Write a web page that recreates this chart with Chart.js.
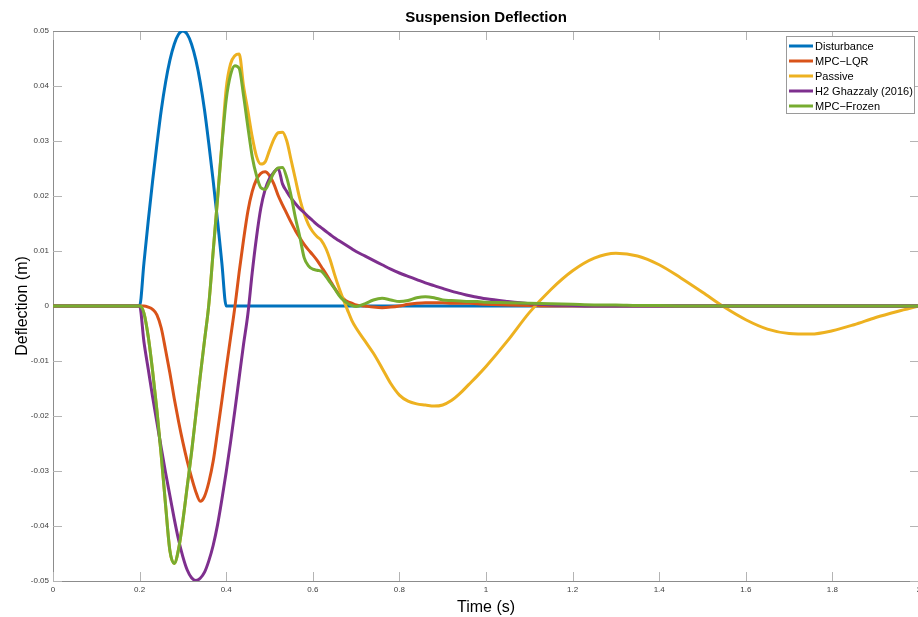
<!DOCTYPE html>
<html>
<head>
<meta charset="utf-8">
<script src="https://cdn.jsdelivr.net/npm/chart.js@4.4.1/dist/chart.umd.min.js"></script>
<style>
  html, body { margin: 0; padding: 0; background: #fff; overflow: hidden; width: 918px; height: 617px; }
  #wrap { position: absolute; left: 0; top: 0; width: 930px; height: 617px; }
</style>
</head>
<body>
<div id="wrap"><canvas id="c" width="930" height="617"></canvas></div>
<script>
// ---- data ----
const chartTitle = "Suspension Deflection";
const xTitle = "Time (s)";
const yTitle = "Deflection (m)";
const seriesNames = ["Disturbance", "MPC\u2212LQR", "Passive", "H2 Ghazzaly (2016)", "MPC\u2212Frozen"];

const time = [
  0, 0.1,
  0.20, 0.21, 0.22, 0.23, 0.24, 0.25, 0.26, 0.27, 0.28, 0.29,
  0.30, 0.31, 0.32, 0.33, 0.34, 0.35, 0.36, 0.37, 0.38, 0.39,
  0.40, 0.41, 0.42, 0.43, 0.44, 0.45, 0.46, 0.47, 0.48, 0.49,
  0.50, 0.51, 0.52, 0.53, 0.54, 0.55, 0.56, 0.57, 0.58, 0.59,
  0.60, 0.61, 0.62, 0.63, 0.64, 0.65, 0.66, 0.67, 0.68, 0.69,
  0.70,
  0.72, 0.74, 0.76, 0.78, 0.80,
  0.82, 0.84, 0.86, 0.88, 0.90, 0.92, 0.94, 0.96, 0.98, 1.00,
  1.05, 1.10, 1.15, 1.20, 1.25, 1.30, 1.35, 1.40, 1.45, 1.50,
  1.55, 1.60, 1.65, 1.70, 1.75, 1.80, 1.85, 1.90, 1.95, 2.00
];

const disturbance = [
  0, 0,
  0, 0.0078, 0.0155, 0.0227, 0.0294, 0.0356, 0.0407, 0.0447, 0.0476, 0.0494,
  0.0500, 0.0494, 0.0476, 0.0447, 0.0407, 0.0356, 0.0294, 0.0227, 0.0155, 0.0078,
  0, 0, 0, 0, 0, 0, 0, 0, 0, 0,
  0, 0, 0, 0, 0, 0, 0, 0, 0, 0,
  0, 0, 0, 0, 0, 0, 0, 0, 0, 0,
  0,
  0, 0, 0, 0, 0,
  0, 0, 0, 0, 0, 0, 0, 0, 0, 0,
  0, 0, 0, 0, 0, 0, 0, 0, 0, 0,
  0, 0, 0, 0, 0, 0, 0, 0, 0, 0
];

const mpcLqr = [
  0, 0,
  0, 0, -0.0002, -0.0006, -0.0016, -0.0040, -0.0080, -0.0122, -0.0168, -0.0210,
  -0.0248, -0.0282, -0.0312, -0.0338, -0.0355, -0.0346, -0.0320, -0.0282, -0.0228, -0.0172,
  -0.0114, -0.0058, -0.0002, 0.0062, 0.0120, 0.0172, 0.0208, 0.0230, 0.0241, 0.0244,
  0.0237, 0.0222, 0.0201, 0.0184, 0.0168, 0.0152, 0.0137, 0.0124, 0.0112, 0.0102,
  0.0093, 0.0083, 0.0071, 0.0059, 0.0046, 0.0033, 0.0022, 0.0014, 0.0008, 0.0005,
  0.0002,
  0, -0.0002, -0.0003, -0.0002, 0,
  0.0003, 0.0005, 0.0006, 0.0006, 0.0006, 0.0005, 0.0005, 0.0005, 0.0004, 0.0003,
  0.0002, 0.0001, 0, 0, 0, 0, 0, 0, 0, 0,
  0, 0, 0, 0, 0, 0, 0, 0, 0, 0
];

const passive = [
  0, 0,
  0, -0.0013, -0.0056, -0.0118, -0.0190, -0.0272, -0.0362, -0.0445, -0.0468, -0.0442,
  -0.0390, -0.0328, -0.0266, -0.0197, -0.0128, -0.0062, 0.0004, 0.0100, 0.0195, 0.0295,
  0.0395, 0.0440, 0.0455, 0.0458, 0.0400, 0.0355, 0.0308, 0.0272, 0.0258, 0.0262,
  0.0283, 0.0303, 0.0315, 0.0316, 0.0300, 0.0265, 0.0230, 0.0195, 0.0168, 0.0148,
  0.0135, 0.0126, 0.0119, 0.0105, 0.0084, 0.0058, 0.0034, 0.0013, -0.0007, -0.0026,
  -0.0040,
  -0.0063, -0.0086, -0.0113, -0.0141, -0.0162,
  -0.0173, -0.0178, -0.0180, -0.0182, -0.0180, -0.0172, -0.0159, -0.0143, -0.0127, -0.0110,
  -0.0063, -0.0012, 0.0030, 0.0064, 0.0087, 0.0096, 0.0091, 0.0075, 0.0051, 0.0025,
  -0.0002, -0.0025, -0.0042, -0.0050, -0.0051, -0.0045, -0.0034, -0.0021, -0.0010, 0
];

const h2Ghazzaly = [
  0, 0,
  0, -0.0065, -0.0115, -0.0165, -0.0212, -0.0258, -0.0303, -0.0345, -0.0387, -0.0425,
  -0.0456, -0.0480, -0.0494, -0.0499, -0.0495, -0.0484, -0.0463, -0.0435, -0.0398, -0.0352,
  -0.0302, -0.0248, -0.0190, -0.0130, -0.0070, -0.0015, 0.0060, 0.0125, 0.0178, 0.0212,
  0.0232, 0.0243, 0.0250, 0.0222, 0.0208, 0.0196, 0.0186, 0.0177, 0.0170, 0.0162,
  0.0155, 0.0148, 0.0142, 0.0136, 0.0130, 0.0124, 0.0119, 0.0114, 0.0109, 0.0104,
  0.0099,
  0.0091, 0.0083, 0.0075, 0.0067, 0.0060,
  0.0054, 0.0048, 0.0042, 0.0037, 0.0032, 0.0027, 0.0023, 0.0019, 0.0016, 0.0013,
  0.0008, 0.0004, 0.0002, 0.0001, 0, 0, 0, 0, 0, 0,
  0, 0, 0, 0, 0, 0, 0, 0, 0, 0
];

const mpcFrozen = [
  0, 0,
  0, -0.0013, -0.0056, -0.0118, -0.0190, -0.0272, -0.0362, -0.0445, -0.0468, -0.0442,
  -0.0390, -0.0328, -0.0266, -0.0197, -0.0128, -0.0062, 0.0004, 0.0100, 0.0195, 0.0292,
  0.0375, 0.0420, 0.0437, 0.0432, 0.0383, 0.0326, 0.0272, 0.0237, 0.0215, 0.0212,
  0.0226, 0.0242, 0.0251, 0.0252, 0.0233, 0.0200, 0.0160, 0.0126, 0.0088, 0.0073,
  0.0067, 0.0065, 0.0063, 0.0054, 0.0043, 0.0032, 0.0020, 0.0011, 0.0005, 0.0001,
  -0.0001,
  0.0004, 0.0011, 0.0014, 0.0011, 0.0008,
  0.0010, 0.0015, 0.0017, 0.0015, 0.0011, 0.0010, 0.0009, 0.0008, 0.0008, 0.0007,
  0.0006, 0.0005, 0.0004, 0.0003, 0.0002, 0.0002, 0.0001, 0.0001, 0, 0,
  0, 0, 0, 0, 0, 0, 0, 0, 0, 0
];

const seriesValues = [disturbance, mpcLqr, passive, h2Ghazzaly, mpcFrozen];
const seriesColors = ["#0072BD", "#D95319", "#EDB120", "#7E2F8E", "#77AC30"];

// ---- chart ----
const datasets = seriesValues.map((vals, i) => ({
  label: seriesNames[i],
  data: time.map((t, k) => ({ x: t, y: vals[k] })),
  borderColor: seriesColors[i],
  backgroundColor: seriesColors[i],
  borderWidth: 3,
  pointRadius: 0,
  fill: false,
  cubicInterpolationMode: 'monotone',
  borderJoinStyle: 'round',
  borderCapStyle: 'round',
  order: seriesValues.length - i
}));

const decoPlugin = {
  id: 'deco',
  beforeDatasetsDraw(chart) {
    const { ctx, chartArea: a, scales: { x, y } } = chart;
    ctx.save();
    ctx.strokeStyle = '#b4b4b4';
    ctx.lineWidth = 1;
    ctx.beginPath();
    x.ticks.forEach(t => {
      const px = Math.round(x.getPixelForValue(t.value)) + 0.5;
      ctx.moveTo(px, a.bottom); ctx.lineTo(px, a.bottom - 9);
      ctx.moveTo(px, a.top); ctx.lineTo(px, a.top + 9);
    });
    y.ticks.forEach(t => {
      const py = Math.round(y.getPixelForValue(t.value)) + 0.5;
      ctx.moveTo(a.left, py); ctx.lineTo(a.left + 9, py);
      ctx.moveTo(a.right, py); ctx.lineTo(a.right - 9, py);
    });
    ctx.stroke();
    ctx.strokeStyle = '#8c8c8c';
    ctx.beginPath();
    ctx.moveTo(a.left, a.top + 0.5); ctx.lineTo(a.right, a.top + 0.5);
    ctx.moveTo(a.right - 0.5, a.top); ctx.lineTo(a.right - 0.5, a.bottom);
    ctx.stroke();
    ctx.restore();
  },
  afterDraw(chart) {
    const { ctx, chartArea: a } = chart;
    ctx.save();
    // title
    ctx.fillStyle = '#000';
    ctx.font = 'bold 15px "Liberation Sans", Arial, sans-serif';
    ctx.textAlign = 'center';
    ctx.textBaseline = 'middle';
    ctx.fillText(chartTitle, (a.left + a.right) / 2, 18);
    // legend
    const bx = 786.5, by = 36.5, bw = 128, bh = 77;
    ctx.fillStyle = '#fff';
    ctx.fillRect(bx, by, bw, bh);
    ctx.strokeStyle = '#9a9a9a';
    ctx.lineWidth = 1;
    ctx.strokeRect(bx, by, bw, bh);
    ctx.font = '11px "Liberation Sans", Arial, sans-serif';
    ctx.textAlign = 'left';
    seriesNames.forEach((name, i) => {
      const ry = 46 + i * 15;
      ctx.strokeStyle = seriesColors[i];
      ctx.lineWidth = 3;
      ctx.beginPath();
      ctx.moveTo(789, ry); ctx.lineTo(813, ry);
      ctx.stroke();
      ctx.fillStyle = '#000';
      ctx.fillText(name, 815, ry + 0.5);
    });
    ctx.restore();
  }
};

new Chart(document.getElementById('c'), {
  type: 'line',
  data: { datasets },
  options: {
    responsive: false,
    animation: false,
    devicePixelRatio: 1,
    layout: { padding: { left: 0, top: 31, right: 11, bottom: 0 } },
    plugins: { legend: { display: false }, title: { display: false }, tooltip: { enabled: false } },
    scales: {
      x: {
        type: 'linear', min: 0, max: 2,
        grid: { display: false, drawTicks: false },
        border: { display: true, color: '#8c8c8c', width: 1 },
        ticks: {
          stepSize: 0.2, padding: 4, maxRotation: 0, autoSkip: false,
          color: '#404040', font: { family: 'Liberation Sans', size: 8 },
          callback: v => (Math.abs(v - Math.round(v)) < 1e-9 ? String(Math.round(v)) : (+v).toFixed(1))
        },
        title: { display: true, text: xTitle, color: '#000', font: { family: 'Liberation Sans', size: 16 }, padding: { top: 0, bottom: 0 } },
        afterFit: s => { s.height = 36; }
      },
      y: {
        type: 'linear', min: -0.05, max: 0.05,
        grid: { display: false, drawTicks: false },
        border: { display: true, color: '#8c8c8c', width: 1 },
        ticks: {
          stepSize: 0.01, padding: 4, autoSkip: false,
          color: '#404040', font: { family: 'Liberation Sans', size: 8 },
          callback: v => (Math.abs(v) < 1e-9 ? '0' : (+v).toFixed(2))
        },
        title: { display: true, text: yTitle, color: '#000', font: { family: 'Liberation Sans', size: 16 }, padding: { top: 13, bottom: 0 } },
        afterFit: s => { s.width = 53; }
      }
    }
  },
  plugins: [decoPlugin]
});
</script>
</body>
</html>
